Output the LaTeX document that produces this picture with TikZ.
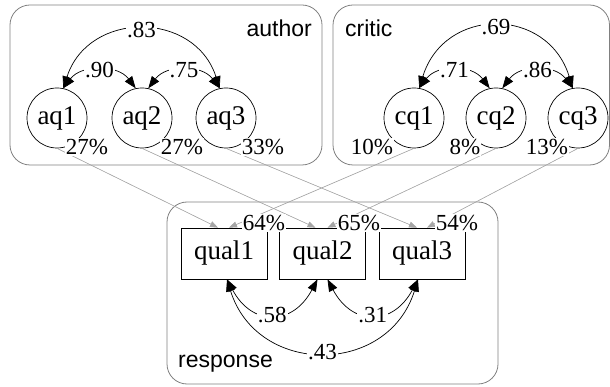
\documentclass[tikz,border=0pt]{standalone}
\usepackage{fontspec}
\setmainfont{Liberation Serif}
\setsansfont{Liberation Sans}
\usetikzlibrary{arrows.meta}

\begin{document}
\begin{tikzpicture}[x=1pt,y=-1pt,
  group/.style={draw=black!50, rounded corners=20pt, line width=0.8pt},
  latent/.style={circle, draw, line width=0.7pt, minimum size=60pt, inner sep=0pt,
    font=\fontsize{27}{27}\selectfont},
  manifest/.style={rectangle, draw, line width=0.7pt, minimum width=86pt,
    minimum height=51pt, inner sep=0pt, font=\fontsize{27}{27}\selectfont},
  val/.style={fill=white, inner sep=1pt, font=\fontsize{23}{23}\selectfont},
  grouplabel/.style={inner sep=0pt, font=\sffamily\fontsize{23}{23}\selectfont},
  cov/.style={{Triangle[length=12pt,width=9pt]}-{Triangle[length=12pt,width=9pt]},
    line width=0.7pt},
  load/.style={-{Triangle[length=8pt,width=6pt]}, draw=black!35, fill=black!35,
    line width=0.6pt}
]
\useasboundingbox (0,0) rectangle (610,387);

% group frames
\draw[group] (10,5) rectangle (322,165);
\draw[group] (333,5) rectangle (609.5,165);
\draw[group] (167,202) rectangle (498,384);

\node[grouplabel, anchor=east] (lauthor) at (312,28) {author};
\node[grouplabel, anchor=west] (lcritic) at (345,28) {critic};
\node[grouplabel, anchor=west] (lresponse) at (178,364) {response};

% latent variables
\node[latent] (aq1) at (57,118) {aq1};
\node[latent] (aq2) at (142,118) {aq2};
\node[latent] (aq3) at (226,118) {aq3};
\node[latent] (cq1) at (414,118) {cq1};
\node[latent] (cq2) at (496,118) {cq2};
\node[latent] (cq3) at (578,118) {cq3};

% observed variables
\node[manifest] (qual1) at (224,253.5) {qual1};
\node[manifest] (qual2) at (322.5,253.5) {qual2};
\node[manifest] (qual3) at (422,253.5) {qual3};

% loadings
\draw[load] (aq1.south) -- ([xshift=-6pt]qual1.north);
\draw[load] (aq2.south) -- ([xshift=-7pt]qual2.north);
\draw[load] (aq3.south) -- ([xshift=-5pt]qual3.north);
\draw[load] (cq1.south) -- ([xshift=5pt]qual1.north);
\draw[load] (cq2.south) -- ([xshift=5pt]qual2.north);
\draw[load] (cq3.south) -- ([xshift=5pt]qual3.north);

% variance labels
\node[val] (vaq1) at (87,147) {27\%};
\node[val] (vaq2) at (182,147) {27\%};
\node[val] (vaq3) at (263,147) {33\%};
\node[val] (vcq1) at (372,147) {10\%};
\node[val] (vcq2) at (465,147) {8\%};
\node[val] (vcq3) at (547,147) {13\%};
\node[val] (vq1) at (264,223) {64\%};
\node[val] (vq2) at (359,223) {65\%};
\node[val] (vq3) at (457,223) {54\%};

% correlations: author
\draw[cov] (aq1.78) .. controls +(25,-78) and +(-25,-78) .. node[val] {.83} (aq3.102);
\draw[cov] (aq1.78) .. controls +(18,-24) and +(-18,-24) .. node[val] {.90} (aq2.102);
\draw[cov] (aq2.78) .. controls +(18,-24) and +(-18,-24) .. node[val] {.75} (aq3.102);

% correlations: critic
\draw[cov] (cq1.80) .. controls +(25,-82) and +(-25,-82) .. node[val] {.69} (cq3.100);
\draw[cov] (cq1.80) .. controls +(18,-24) and +(-18,-24) .. node[val] {.71} (cq2.102);
\draw[cov] (cq2.78) .. controls +(18,-24) and +(-18,-24) .. node[val] {.86} (cq3.100);

% correlations: response
\draw[cov] ([xshift=3pt]qual1.south) .. controls +(25,47) and +(-25,47) .. node[val] {.58} ([xshift=-5pt]qual2.south);
\draw[cov] ([xshift=5pt]qual2.south) .. controls +(25,47) and +(-25,47) .. node[val] {.31} ([xshift=-4pt]qual3.south);
\draw[cov] ([xshift=3pt]qual1.south) .. controls +(30,97) and +(-30,97) .. node[val] {.43} ([xshift=-4pt]qual3.south);
\end{tikzpicture}
\end{document}
